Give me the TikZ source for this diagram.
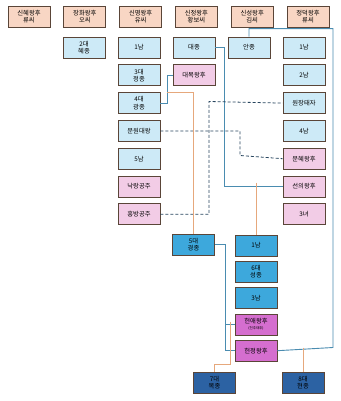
\documentclass[tikz,border=0pt]{standalone}
\usepackage{fontspec}
\newfontfamily\kr{Noto Sans CJK KR}
\usetikzlibrary{positioning}

\definecolor{hdr}{HTML}{F8D6C4}
\definecolor{lblue}{HTML}{CDEAF7}
\definecolor{lpink}{HTML}{F2CCE6}
\definecolor{mblue}{HTML}{3DA8DC}
\definecolor{mpink}{HTML}{D56ECF}
\definecolor{dblue}{HTML}{2C62A3}
\definecolor{boxline}{HTML}{5A4538}
\definecolor{wedline}{HTML}{4A8CB0}
\definecolor{kidline}{HTML}{E6A87C}
\definecolor{tieline}{HTML}{27455E}

\begin{document}
\begin{tikzpicture}[
    x=1pt, y=-1pt,
    node distance=6pt,
    box/.style={
        rectangle, draw=boxline, line width=0.8pt,
        minimum width=42pt, minimum height=21pt, inner sep=0pt,
        align=center, font=\kr\fontsize{6.3}{7.2}\selectfont
    },
    queen/.style={box, fill=hdr},
    son/.style={box, fill=lblue},
    girl/.style={box, fill=lpink},
    heir/.style={box, fill=mblue},
    consort/.style={box, fill=mpink},
    king/.style={box, fill=dblue},
    wed/.style={draw=wedline, line width=0.9pt},
    tie/.style={draw=tieline, line width=0.8pt, dash pattern=on 3pt off 2pt},
    child/.style={draw=kidline, line width=0.9pt}
]
\useasboundingbox (0,0) rectangle (340,401);

% queens
\node[queen] (q1) at (29,16.5) {신혜왕후\\류씨};
\node[queen,right=13pt of q1] (q2) {장화왕후\\오씨};
\node[queen,right=13pt of q2] (q3) {신명왕후\\유씨};
\node[queen,right=13pt of q3] (q4) {신정왕후\\황보씨};
\node[queen,right=13pt of q4] (q5) {신성왕후\\김씨};
\node[queen,right=13pt of q5] (q6) {정덕왕후\\류씨};

% children of the queens
\node[son] (hyejong) at (84,47.5) {2대\\혜종};

\node[son] (s3a) at (139,47.5) {1남};
\node[son,below=of s3a] (jeongjong) {3대\\정종};
\node[son,below=of jeongjong] (gwangjong) {4대\\광종};
\node[son,below=of gwangjong] (munwon) {문원대왕};
\node[son,below=of munwon] (s3e) {5남};
\node[girl,below=of s3e] (nakrang) {낙랑공주};
\node[girl,below=of nakrang] (heungbang) {흥방공주};

\node[son] (daejong) at (194,47.5) {대종};
\node[girl,below=of daejong] (daemok) {대목왕후};

\node[son] (anjong) at (249,47.5) {안종};

\node[son] (s6a) at (304,47.5) {1남};
\node[son,below=of s6a] (s6b) {2남};
\node[son,below=of s6b] (wonjang) {원장태자};
\node[son,below=of wonjang] (s6d) {4남};
\node[girl,below=of s6d] (munhye) {문혜왕후};
\node[girl,below=of munhye] (seonui) {선의왕후};
\node[girl,below=of seonui] (d6c) {3녀};

% next generation
\node[heir] (gyeongjong) at (193.5,244.5) {5대\\경종};
\node[heir] (s5a) at (256,245.5) {1남};
\node[heir,below=4.5pt of s5a] (seongjong) {6대\\성종};
\node[heir,below=4.5pt of seongjong] (s5c) {3남};
\node[consort,below=4.5pt of s5c] (heonae)
    {헌애왕후\\[-1.5pt]{\fontsize{3.5}{4}\selectfont(천추태후)}};
\node[consort,below=4.5pt of heonae] (heonjeong) {헌정왕후};

\node[king] (mokjong) at (214.5,382.5) {7대\\목종};
\node[king] (hyeonjong) at (303,382.5) {8대\\현종};

% marriages
\draw[wed] (gwangjong.east) -- ++(7,0) |- (daemok.west);
\draw[wed] (daejong.east) -- ++(9,0) |- (seonui.west);
\draw[wed] (anjong.north) -- ++(0,-8) -| (333,347.5) -- (heonjeong.east);
\draw[wed] (gyeongjong.east) -- ++(11,0) |- (heonjeong.west);
\draw[wed] (heonae.west) -- ++(-10,0);

% cousin links
\draw[tie] (munwon.east) -| (240,155.5) -- (munhye.west);
\draw[tie] (heungbang.east) -| (209,101.5) -- (wonjang.west);

% children
\coordinate (k1) at (167,92);
\coordinate (k2) at (256,182.5);
\coordinate (k3) at (230,321.5);
\coordinate (k4) at (303,347.5);
\draw[child] (k1) -| (gyeongjong.north);
\draw[child] (k2) -- (s5a.north);
\draw[child] (k3) -- (230,364) -| (mokjong.north);
\draw[child] (k4) -- (hyeonjong.north);
\end{tikzpicture}
\end{document}
